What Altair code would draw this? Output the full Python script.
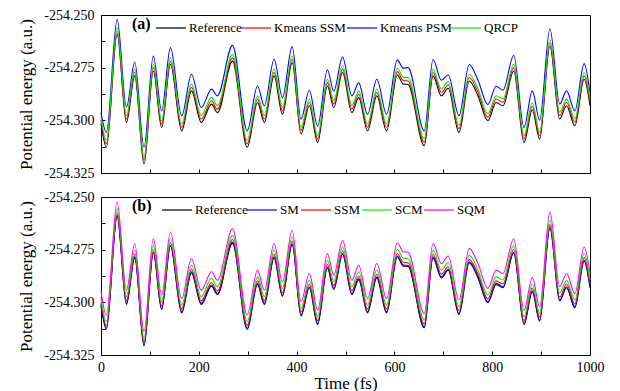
import altair as alt
import pandas as pd

time_fs = [0, 11, 33, 52, 69, 88, 107, 124, 142, 165, 185, 205, 226, 238, 269, 299, 320, 334, 354, 371,
           391, 409, 426, 443, 463, 476, 494, 513, 527, 545, 564, 584, 606, 618, 628, 661, 679, 696, 710, 732,
           753, 771, 791, 808, 822, 844, 865, 882, 897, 918, 938, 952, 969, 988, 1000]

reference = [-254.3015, -254.3128, -254.2592, -254.3010, -254.2789, -254.3207, -254.2766, -254.3034, -254.2734, -254.3050,
             -254.2860, -254.3010, -254.2923, -254.2963, -254.2719, -254.3128, -254.2915, -254.3010, -254.2789, -254.2971,
             -254.2726, -254.3065, -254.2931, -254.3105, -254.2837, -254.2939, -254.2773, -254.2963, -254.2892, -254.3050,
             -254.2884, -254.3050, -254.2785, -254.2828, -254.2830, -254.3121, -254.2789, -254.2884, -254.2848, -254.3057,
             -254.2813, -254.2884, -254.3002, -254.2915, -254.2931, -254.2766, -254.3105, -254.2950, -254.3089, -254.2648,
             -254.2994, -254.2931, -254.3026, -254.2805, -254.2930]

kmeans_ssm = [-254.2999, -254.3112, -254.2576, -254.2994, -254.2773, -254.3190, -254.2750, -254.3018, -254.2718, -254.3033,
              -254.2844, -254.2994, -254.2907, -254.2947, -254.2703, -254.3111, -254.2899, -254.2994, -254.2773, -254.2955,
              -254.2710, -254.3048, -254.2915, -254.3088, -254.2821, -254.2922, -254.2757, -254.2946, -254.2876, -254.3033,
              -254.2868, -254.3033, -254.2769, -254.2811, -254.2813, -254.3104, -254.2773, -254.2867, -254.2832, -254.3040,
              -254.2797, -254.2867, -254.2985, -254.2899, -254.2914, -254.2750, -254.3088, -254.2933, -254.3072, -254.2632,
              -254.2977, -254.2914, -254.3009, -254.2789, -254.2913]

kmeans_psm = [-254.2963, -254.3057, -254.2521, -254.2939, -254.2723, -254.3128, -254.2695, -254.2955, -254.2655, -254.2979,
              -254.2781, -254.2939, -254.2852, -254.2884, -254.2644, -254.3050, -254.2837, -254.2931, -254.2710, -254.2892,
              -254.2650, -254.2994, -254.2857, -254.3028, -254.2760, -254.2862, -254.2700, -254.2884, -254.2822, -254.2971,
              -254.2805, -254.2971, -254.2713, -254.2752, -254.2750, -254.3050, -254.2711, -254.2810, -254.2785, -254.2978,
              -254.2735, -254.2810, -254.2925, -254.2838, -254.2857, -254.2692, -254.3034, -254.2860, -254.2999, -254.2565,
              -254.2923, -254.2860, -254.2955, -254.2731, -254.2870]

qrcp = [-254.2983, -254.3096, -254.2560, -254.2978, -254.2757, -254.3174, -254.2734, -254.3002, -254.2702, -254.3017,
        -254.2828, -254.2977, -254.2891, -254.2930, -254.2687, -254.3095, -254.2883, -254.2977, -254.2757, -254.2938,
        -254.2694, -254.3032, -254.2899, -254.3072, -254.2805, -254.2906, -254.2741, -254.2930, -254.2860, -254.3017,
        -254.2852, -254.3017, -254.2753, -254.2795, -254.2797, -254.3088, -254.2757, -254.2851, -254.2816, -254.3024,
        -254.2781, -254.2851, -254.2969, -254.2883, -254.2898, -254.2734, -254.3072, -254.2917, -254.3056, -254.2616,
        -254.2961, -254.2898, -254.2993, -254.2773, -254.2897]

sm = [-254.3010, -254.3123, -254.2587, -254.3005, -254.2784, -254.3202, -254.2761, -254.3029, -254.2729, -254.3045,
      -254.2855, -254.3005, -254.2918, -254.2958, -254.2714, -254.3123, -254.2910, -254.3005, -254.2784, -254.2966,
      -254.2721, -254.3060, -254.2926, -254.3100, -254.2832, -254.2934, -254.2768, -254.2958, -254.2887, -254.3045,
      -254.2879, -254.3045, -254.2780, -254.2823, -254.2825, -254.3116, -254.2784, -254.2879, -254.2843, -254.3052,
      -254.2808, -254.2879, -254.2997, -254.2910, -254.2926, -254.2761, -254.3100, -254.2945, -254.3084, -254.2643,
      -254.2989, -254.2926, -254.3021, -254.2800, -254.2925]

ssm = [-254.2998, -254.3111, -254.2575, -254.2993, -254.2772, -254.3189, -254.2749, -254.3017, -254.2717, -254.3032,
       -254.2843, -254.2993, -254.2906, -254.2946, -254.2702, -254.3110, -254.2898, -254.2993, -254.2772, -254.2954,
       -254.2709, -254.3047, -254.2914, -254.3087, -254.2820, -254.2921, -254.2756, -254.2945, -254.2875, -254.3032,
       -254.2867, -254.3032, -254.2768, -254.2810, -254.2812, -254.3103, -254.2772, -254.2866, -254.2831, -254.3039,
       -254.2796, -254.2866, -254.2984, -254.2898, -254.2913, -254.2749, -254.3087, -254.2932, -254.3071, -254.2631,
       -254.2976, -254.2913, -254.3008, -254.2788, -254.2912]

scm = [-254.2978, -254.3091, -254.2555, -254.2973, -254.2752, -254.3170, -254.2729, -254.2997, -254.2697, -254.3013,
       -254.2823, -254.2973, -254.2886, -254.2926, -254.2682, -254.3091, -254.2878, -254.2973, -254.2752, -254.2934,
       -254.2689, -254.3028, -254.2894, -254.3068, -254.2800, -254.2902, -254.2736, -254.2926, -254.2855, -254.3013,
       -254.2847, -254.3013, -254.2748, -254.2791, -254.2793, -254.3084, -254.2752, -254.2847, -254.2811, -254.3020,
       -254.2776, -254.2847, -254.2965, -254.2878, -254.2894, -254.2729, -254.3068, -254.2913, -254.3052, -254.2611,
       -254.2957, -254.2894, -254.2989, -254.2768, -254.2893]

sqm = [-254.2947, -254.3060, -254.2524, -254.2942, -254.2721, -254.3139, -254.2698, -254.2966, -254.2666, -254.2982,
       -254.2792, -254.2942, -254.2855, -254.2895, -254.2651, -254.3060, -254.2847, -254.2942, -254.2721, -254.2903,
       -254.2658, -254.2997, -254.2863, -254.3037, -254.2769, -254.2871, -254.2705, -254.2895, -254.2824, -254.2982,
       -254.2816, -254.2982, -254.2717, -254.2760, -254.2762, -254.3053, -254.2721, -254.2816, -254.2780, -254.2989,
       -254.2745, -254.2816, -254.2934, -254.2847, -254.2863, -254.2698, -254.3037, -254.2882, -254.3021, -254.2572,
       -254.2926, -254.2863, -254.2958, -254.2737, -254.2862]

names_a = ["Reference", "Kmeans SSM", "Kmeans PSM", "QRCP"]
series_a = [reference, kmeans_ssm, kmeans_psm, qrcp]
colors_a = ["#000000", "#FF0000", "#0000FF", "#00EE00"]
legend_x_a = [31, 139, 245, 349]

names_b = ["Reference", "SM", "SSM", "SCM", "SQM"]
series_b = [reference, sm, ssm, scm, sqm]
colors_b = ["#000000", "#0000FF", "#FF0000", "#00EE00", "#FF00FF"]
legend_x_b = [31, 145, 199, 260, 322]

y_ticks = [-254.325, -254.3125, -254.3, -254.2875, -254.275, -254.2625, -254.25]
x_ticks = [0, 100, 200, 300, 400, 500, 600, 700, 800, 900, 1000]

FONT = "Liberation Serif, Times New Roman, serif"


def panel(names, series, colors, legend_xs, tag, tag_pad, bottom):
    if bottom:
        x_axis = alt.Axis(values=x_ticks, offset=-4, tickSize=4, domain=False, grid=False,
                          labelExpr="datum.value % 200 == 0 ? format(datum.value, 'd') : ''",
                          labelFlush=False, labelOverlap=False, labelPadding=5,
                          labelFont=FONT, titleFont=FONT, titleFontWeight="normal",
                          labelFontSize=14, titleFontSize=17, titlePadding=1,
                          title="Time (fs)")
    else:
        x_axis = alt.Axis(values=x_ticks, offset=-4, tickSize=4, domain=False, grid=False,
                          labels=False, title=None)
    y_axis = alt.Axis(values=y_ticks, offset=-4, tickSize=4, domain=False, grid=False,
                      labelExpr="abs(datum.value*40 - round(datum.value*40)) < 0.01 ? "
                                "replace(format(datum.value, '.3f'), '\u2212', '-') : ''",
                      labelFlush=False, labelOverlap=False, labelPadding=7,
                      labelFont=FONT, titleFont=FONT, titleFontWeight="normal",
                      labelFontSize=14, titleFontSize=17, titleX=-70,
                      title="Potential energy (a.u.)")
    layers = []
    for i, (name, vals, col, lx) in enumerate(zip(names, series, colors, legend_xs)):
        df = pd.DataFrame({"t": time_fs, "E": vals, "series": [name] * len(time_fs)})
        if i == 0:
            legend = alt.Legend(orient="none", legendX=lx, legendY=-3, direction="horizontal",
                                title=tag, titleOrient="left", titleFontSize=16, titleFontWeight="bold",
                                titleFont=FONT, titleColor="black", titlePadding=tag_pad,
                                symbolType="stroke", symbolSize=900, symbolStrokeWidth=1.2,
                                labelFont=FONT, labelFontSize=13, labelColor="black",
                                labelOffset=2, padding=0)
        else:
            legend = alt.Legend(orient="none", legendX=lx, legendY=-3, direction="horizontal",
                                title=None,
                                symbolType="stroke", symbolSize=900, symbolStrokeWidth=1.2,
                                labelFont=FONT, labelFontSize=13, labelColor="black",
                                labelOffset=2, padding=0)
        layers.append(
            alt.Chart(df).mark_line(interpolate="monotone", strokeWidth=1.1).encode(
                x=alt.X("t:Q", scale=alt.Scale(domain=[0, 1000], nice=False, zero=False), axis=x_axis),
                y=alt.Y("E:Q", scale=alt.Scale(domain=[-254.325, -254.25], nice=False, zero=False), axis=y_axis),
                color=alt.Color("series:N", scale=alt.Scale(domain=[name], range=[col]), legend=legend),
            )
        )
    return alt.layer(*layers).resolve_scale(color="independent").properties(width=489, height=158)


top = panel(names_a, series_a, colors_a, legend_x_a, "(a)", 4, False)
bottom = panel(names_b, series_b, colors_b, legend_x_b, "(b)", 9, True)

chart = alt.vconcat(top, bottom, spacing=24, bounds="flush").resolve_scale(
    color="independent"
).properties(
    padding={"left": 16, "top": 7, "right": 0, "bottom": 0}
).configure(
    font=FONT
).configure_view(
    stroke="black", strokeWidth=1
).configure_axis(
    labelFont=FONT, titleFont=FONT, labelColor="black", titleColor="black",
    tickColor="black", titleFontWeight="normal"
)

chart.save("out.html", embed_options={"renderer": "svg", "actions": False})
